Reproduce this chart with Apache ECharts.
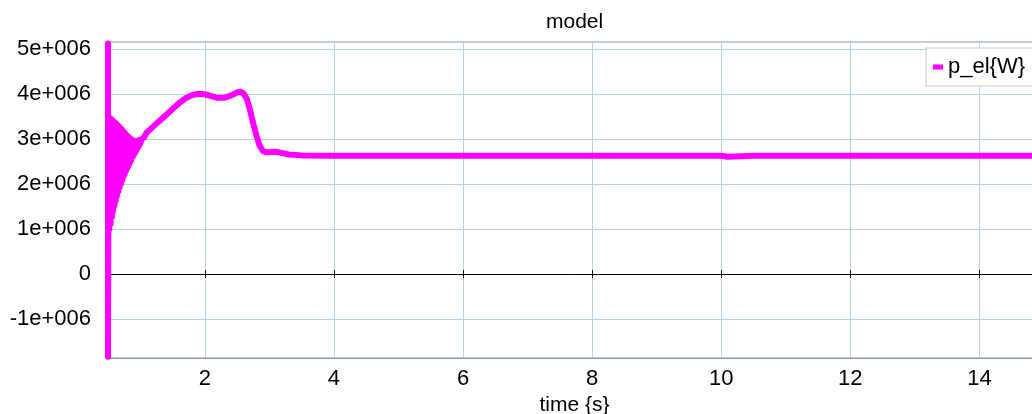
<!DOCTYPE html>
<html>
<head>
<meta charset="utf-8">
<script src="https://cdn.jsdelivr.net/npm/echarts@6/dist/echarts.min.js"></script>
<style>
html,body{margin:0;padding:0;background:#fff;}
#chart{width:1032px;height:414px;}
</style>
</head>
<body>
<div id="chart"></div>
<script>
// ---- data ----
const chartTitle = 'model';
const seriesName = 'p_el{W}';
const xAxisName = 'time {s}';

// time in s
const timeVals = [
  0.50, 0.50,
  0.51, 0.52, 0.53, 0.54, 0.55, 0.56, 0.57, 0.58, 0.59, 0.60,
  0.61, 0.62, 0.63, 0.64, 0.65, 0.66, 0.67, 0.68, 0.69, 0.70,
  0.71, 0.72, 0.73, 0.74, 0.75, 0.76, 0.77, 0.78, 0.79, 0.80,
  0.81, 0.82, 0.83, 0.84, 0.85, 0.86, 0.87, 0.88, 0.89, 0.90,
  0.91, 0.92, 0.93, 0.94, 0.95, 0.96, 0.97, 0.98, 0.99, 1.00,
  1.02, 1.04, 1.06,
  1.10, 1.20, 1.30, 1.40, 1.50, 1.60, 1.70, 1.80, 1.90, 2.00,
  2.10, 2.20, 2.30, 2.40, 2.50, 2.55, 2.60, 2.65, 2.70, 2.75,
  2.80, 2.85, 2.90, 2.95, 3.00, 3.10, 3.20, 3.30, 3.50, 4.00,
  6.00, 8.00, 10.00, 10.10, 10.50, 12.00, 14.83
];
// electrical power in W
const powerVals = [
  5.13e6, -1.84e6,
  3.48e6, 1.00e6, 3.47e6, 1.12e6, 3.44e6, 1.27e6, 3.42e6, 1.40e6, 3.39e6, 1.52e6,
  3.37e6, 1.63e6, 3.34e6, 1.74e6, 3.31e6, 1.84e6, 3.28e6, 1.93e6, 3.25e6, 2.01e6,
  3.22e6, 2.09e6, 3.18e6, 2.16e6, 3.15e6, 2.23e6, 3.12e6, 2.30e6, 3.09e6, 2.36e6,
  3.06e6, 2.42e6, 3.03e6, 2.48e6, 3.01e6, 2.54e6, 2.99e6, 2.60e6, 2.97e6, 2.65e6,
  2.96e6, 2.70e6, 2.96e6, 2.75e6, 2.96e6, 2.80e6, 2.97e6, 2.85e6, 2.98e6, 2.90e6,
  3.00e6, 2.97e6, 3.04e6,
  3.15e6, 3.28e6, 3.41e6, 3.54e6, 3.67e6, 3.80e6, 3.91e6, 3.98e6, 4.01e6, 4.00e6,
  3.96e6, 3.92e6, 3.92e6, 3.97e6, 4.04e6, 4.06e6, 4.02e6, 3.90e6, 3.65e6, 3.35e6,
  3.08e6, 2.85e6, 2.74e6, 2.71e6, 2.71e6, 2.72e6, 2.69e6, 2.66e6, 2.64e6, 2.63e6,
  2.63e6, 2.63e6, 2.63e6, 2.61e6, 2.63e6, 2.63e6, 2.63e6
];

// axis ranges / ticks
const xMin = 0.5, xMax = 14.83, xStep = 2;
const yMin = -1.867e6, yMax = 5.162e6, yStep = 1e6;

// ---- chart ----
const seriesData = timeVals.map((t, i) => [t, powerVals[i]]);
const font = '"Liberation Sans", Arial, sans-serif';
const gridColor = '#b7d0ee';
const frameColor = '#8797ad';

function yFmt(v) {
  if (Math.abs(v) < 1) return '0';
  const m = v / 1e6;
  if (Math.abs(m - Math.round(m)) > 1e-9) return '';
  return Math.round(m) + 'e+006';
}
function xFmt(v) {
  const r = Math.round(v);
  if (Math.abs(v - r) > 1e-9 || r % 2 !== 0) return '';
  return String(r);
}

const gridPos = { left: 108, top: 42, right: -1, bottom: 56, outerBoundsMode: 'none', containLabel: false };
const chart = echarts.init(document.getElementById('chart'), null, { renderer: 'canvas' });
chart.setOption({
  animation: false,
  backgroundColor: '#ffffff',
  textStyle: { fontFamily: font },
  title: {
    text: chartTitle,
    left: 546, top: 12, padding: 0,
    textStyle: { fontFamily: font, fontSize: 21, fontWeight: 'normal', color: '#000' }
  },
  legend: {
    data: [seriesName],
    left: 926, top: 48,
    padding: [8, 30, 8, 7],
    backgroundColor: '#ffffff',
    borderColor: '#c9c9c9', borderWidth: 1, borderRadius: 0,
    icon: 'rect', itemWidth: 10, itemHeight: 5, itemGap: 10,
    textStyle: { fontFamily: font, fontSize: 22, color: '#000', padding: [0, 0, 0, 0] }
  },
  grid: [
    Object.assign({ show: true, borderColor: frameColor, borderWidth: 1, backgroundColor: 'transparent' }, gridPos),
    Object.assign({ show: false }, gridPos)
  ],
  xAxis: [
    {
      type: 'value', gridIndex: 0, position: 'bottom',
      min: xMin, max: xMax, splitNumber: 7, minInterval: xStep, maxInterval: xStep,
      name: xAxisName, nameLocation: 'middle', nameGap: 31,
      nameTextStyle: { fontFamily: font, fontSize: 21, color: '#000', padding: [0, 0, 0, 8] },
      axisLine: { show: true, onZero: false, lineStyle: { color: frameColor, width: 1 } },
      axisTick: { show: false },
      axisLabel: { show: true, margin: 10, fontFamily: font, fontSize: 22, color: '#000', formatter: xFmt },
      splitLine: { show: true, lineStyle: { color: gridColor, width: 1 } }
    },
    {
      type: 'value', gridIndex: 0, position: 'top',
      min: xMin, max: xMax, splitNumber: 7, minInterval: xStep, maxInterval: xStep,
      axisLine: { show: true, onZero: true, lineStyle: { color: '#000', width: 1 } },
      axisTick: { show: true, length: 4, lineStyle: { color: '#000' } },
      axisLabel: { show: false },
      splitLine: { show: false }
    },
    {
      type: 'value', gridIndex: 1, position: 'bottom',
      min: xMin, max: xMax, splitNumber: 7, minInterval: xStep, maxInterval: xStep,
      axisLine: { show: true, onZero: true, lineStyle: { color: '#000', width: 1 } },
      axisTick: { show: true, length: 4, lineStyle: { color: '#000' } },
      axisLabel: { show: false },
      splitLine: { show: false }
    }
  ],
  yAxis: [
    {
      type: 'value', gridIndex: 0,
      min: yMin, max: yMax, splitNumber: 7, minInterval: yStep, maxInterval: yStep,
      axisLine: { show: false },
      axisTick: { show: false },
      axisLabel: { show: true, margin: 17, fontFamily: font, fontSize: 22, color: '#000', formatter: yFmt },
      splitLine: { show: true, lineStyle: { color: gridColor, width: 1 } }
    },
    {
      type: 'value', gridIndex: 1,
      min: yMin, max: yMax, splitNumber: 7, minInterval: yStep, maxInterval: yStep,
      axisLine: { show: false }, axisTick: { show: false },
      axisLabel: { show: false }, splitLine: { show: false }
    }
  ],
  series: [
    {
      name: seriesName,
      type: 'line',
      xAxisIndex: 0, yAxisIndex: 0,
      data: seriesData,
      showSymbol: false,
      symbol: 'none',
      clip: false,
      smooth: false,
      color: '#ff00ff',
      lineStyle: { color: '#ff00ff', width: 6, cap: 'round', join: 'round' },
      z: 5
    }
  ]
});
</script>
</body>
</html>
